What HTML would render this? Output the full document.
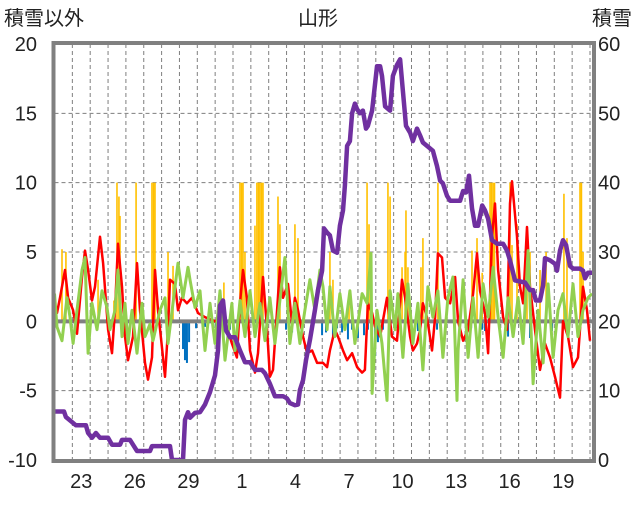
<!DOCTYPE html>
<html><head><meta charset="utf-8">
<style>
html,body{margin:0;padding:0;background:#fff;}
body{width:636px;height:501px;overflow:hidden;font-family:"Liberation Sans","Noto Sans CJK JP",sans-serif;}
</style></head>
<body>
<svg id="chart" width="636" height="501" viewBox="0 0 636 501" xmlns="http://www.w3.org/2000/svg" font-family="Liberation Sans, Noto Sans CJK JP, sans-serif">
<text x="318" y="25" font-size="20" text-anchor="middle" fill="#222">山形</text>
<text x="4" y="25" font-size="20" fill="#222">積雪以外</text>
<text x="632" y="25" font-size="20" text-anchor="end" fill="#222">積雪</text>
<g id="grid"></g>
<g id="bars"></g>
<g id="lines"></g>
<g id="axes"></g>
</svg>
<script>
const leftTicks=[-10,-5,0,5,10,15,20];
const rightTicks=[0,10,20,30,40,50,60];
const dayLabels=["23","26","29","1","4","7","10","13","16","19"];
const dayLabelPos=[1.5,4.5,7.5,10.5,13.5,16.5,19.5,22.5,25.5,28.5];
const redT=[0,.14,.31,.59,.76,1.04,1.26,1.54,1.71,1.88,2.1,2.27,2.55,2.72,3.0,3.22,3.39,3.56,3.78,3.95,4.12,4.4,4.62,4.79,5.07,5.24,5.46,5.63,5.8,6.02,6.19,6.36,6.47,6.75,6.92,7.14,7.42,7.7,8.04,8.43,9.0,9.38,9.66,9.94,10.22,10.39,10.56,10.78,10.95,11.23,11.4,11.68,11.9,12.07,12.24,12.46,12.63,12.8,13.08,13.31,13.47,13.64,13.92,14.15,14.43,14.71,15.04,15.27,15.43,15.71,15.88,16.16,16.39,16.67,16.95,17.23,17.39,17.56,17.79,17.96,18.24,18.63,18.91,19.19,19.47,19.64,19.92,20.08,20.31,20.48,20.64,20.87,21.15,21.32,21.48,21.71,21.88,22.16,22.44,22.61,22.89,23.17,23.45,23.67,23.84,24.12,24.29,24.51,24.68,24.85,25.13,25.35,25.52,25.63,25.91,26.08,26.25,26.47,26.64,26.92,27.2,27.48,27.76,28.04,28.32,28.49,28.77,29.05,29.33,29.61,29.83,30.0];
const redV=[1.3,0.6,1.7,3.7,1.7,0.8,-0.9,3.2,5.1,3.7,1.5,2.5,6.1,4.2,-0.6,-2.3,0.8,5.6,2.5,-1.1,-2.8,-1.1,4.2,0.8,-3,-4.2,-2.6,3.7,0.8,-1.9,-4,-0.6,3,2.7,0.8,1.7,1.3,1.7,0.6,0.3,0,0.3,-0.4,-1.6,-2.6,1.3,3.7,1.7,-2.1,-3.7,-2.3,3.2,-0.4,-4,-3.5,0.6,3.9,1.7,2.7,-0.2,1.7,0.8,-1.1,-2.3,-2.1,-3,-3,-3.3,-2.1,-0.6,-1.1,-2.1,-2.8,-2.3,-3.3,-3.7,-3.5,1.3,0.6,-0.4,-1.1,1.7,-1.1,-1.4,3,1.7,-1.1,-2.1,-1.6,-0.6,1.3,0.3,-2.1,0.3,4.9,4.6,1.7,1.3,3.2,0,-1.4,-0.6,2,4.9,2.2,0.6,-2.3,6.1,8.5,3.7,0.3,-0.6,8.5,10.1,6.1,2.5,1.3,6.8,2.5,-0.6,-3.5,-1.6,-2.6,-4,-5.5,0,-1.1,-3.3,-2.6,2.5,0.8,-1.4];
const greenT=[0,.14,.42,.70,.87,1.04,1.26,1.54,1.71,1.88,2.10,2.38,2.66,2.94,3.11,3.39,3.56,3.78,3.95,4.12,4.34,4.62,4.90,5.07,5.35,5.52,5.91,6.19,6.36,6.64,6.92,7.20,7.48,7.59,7.87,8.15,8.43,8.71,8.99,9.27,9.55,9.94,10.11,10.39,10.67,10.95,11.23,11.51,11.79,12.07,12.35,12.63,12.91,13.19,13.47,13.75,14.03,14.31,14.59,14.87,15.04,15.27,15.43,15.71,15.99,16.27,16.55,16.83,17.23,17.51,17.73,17.79,18.07,18.35,18.63,18.80,19.08,19.24,19.52,19.80,20.08,20.36,20.64,20.92,21.20,21.48,21.76,22.04,22.32,22.55,22.61,22.89,23.17,23.45,23.73,24.01,24.29,24.57,24.85,25.13,25.41,25.69,25.97,26.25,26.53,26.81,27.09,27.37,27.65,27.93,28.21,28.49,28.77,29.05,29.33,29.61,29.89,30.11];
const greenV=[2.0,-0.4,-1.4,1.7,0.3,-1.6,0.8,3.7,4.6,-2.3,1.3,-0.6,2.2,1.0,-0.6,0.8,3.7,-1.1,1.3,-1.6,0.8,-2.3,1.3,-1.1,-0.2,-1.4,0.8,1.7,-1.6,1.3,4.2,1.7,3.9,3.0,1.0,2.2,-2.1,1.3,-1.6,2.2,-2.8,1.3,-2.1,1.5,-1.1,2.2,-1.1,1.3,-1.4,1.7,-1.6,1.5,4.6,-1.6,1.3,-1.6,0.8,3.0,0.8,3.7,2.5,-0.6,2.5,-1.1,2.0,-0.6,2.2,-1.6,2.0,1.3,4.9,-5.2,0.8,-1.6,-5.7,2.2,-0.6,2.0,-2.6,2.7,-1.6,1.3,-3.5,2.5,0.3,2.2,-2.6,1.7,3.2,-5.7,-2.1,3.0,-2.6,1.7,-2.6,2.7,0.3,3.9,0.3,-2.6,1.7,-1.1,1.7,-1.6,5.1,-4.5,0.8,-3.0,2.7,-2.6,0.8,2.0,-1.1,2.7,-1.1,0.8,1.7,2.0];
const snowT=[0,.53,.64,1.20,1.76,1.88,2.10,2.32,2.55,3.00,3.22,3.67,3.78,4.23,4.40,4.62,5.35,5.46,6.47,6.58,7.20,7.31,7.48,7.59,7.87,8.15,8.43,8.71,8.99,9.16,9.27,9.44,9.61,9.83,10.11,10.39,10.67,10.95,11.23,11.62,11.79,12.07,12.35,12.80,13.02,13.19,13.47,13.64,13.75,13.92,14.09,14.31,14.59,14.76,14.99,15.10,15.27,15.43,15.60,15.83,15.99,16.16,16.27,16.39,16.55,16.67,16.83,16.95,17.11,17.28,17.45,17.56,17.79,18.07,18.24,18.35,18.52,18.80,18.96,19.19,19.36,19.52,19.69,19.92,20.08,20.31,20.48,20.64,20.87,21.20,21.43,21.60,21.76,21.99,22.16,22.72,22.89,23.06,23.22,23.39,23.56,23.73,23.96,24.12,24.29,24.51,24.79,25.13,25.35,25.52,25.80,26.36,26.64,26.81,26.97,27.20,27.37,27.48,27.76,28.04,28.15,28.32,28.49,28.66,28.88,29.05,29.44,29.61,29.72,29.89,30.17];
const snowV=[7,7,6.2,5,5,3.9,3.2,3.9,3.2,3.2,2.2,2.2,2.9,2.9,2.2,1.3,1.3,2,2,0,0,5.8,6.9,6.1,6.8,6.9,8,9.8,12.2,15.8,22.3,23,18.7,17.7,17.7,15.8,14.1,14.1,13,13,12.5,11,9.2,9.2,8.9,8.2,7.9,8,10.1,11.5,14.4,17.3,21.6,24.5,27.3,33.4,32.8,32.4,30.2,29.9,33.8,36,39.6,45.3,46,50,51.4,50.6,50,50.4,47.8,48.2,50.4,56.8,56.8,55.4,51,50.4,55.4,57,57.8,53.2,48.2,47.2,46,47.8,46.8,45.8,45.3,44.6,42.4,40.3,39.9,38.1,37.4,37.4,38.8,38.6,41,36.3,33.8,33.8,36.7,36,34.8,31.7,31.2,31.2,30.2,28.8,25.9,25.6,24.5,24.5,23,23,25.2,29.1,28.8,28.3,27.3,30.2,31.7,31,28,27.6,27.6,27.3,26.2,27,27];
const rainT=[.42,.64,2.44,3.33,3.50,3.61,3.67,4.57,5.46,5.55,5.63,6.36,6.64,9.49,10.39,10.48,10.56,10.67,11.23,11.34,11.43,11.51,11.6,11.68,12.52,12.63,13.47,13.64,15.43,15.6,16.5,17.51,17.62,18.68,18.8,19.47,19.64,19.69,19.8,20.53,20.64,21.48,23.39,23.67,23.96,24.40,24.48,24.57,24.65,25.52,25.63,25.91,26.47,26.64,27.2,27.54,28.54,28.71,29.44,29.52,29.61];
const rainV=[5.2,5,3,1.5,10,9,7.6,10,10,10,10,5,4,2.8,10,10,10,5,6.9,10,10,10,10,10,9,7,7,6,5,3,1.9,10,7,10,9,3.9,5,8,3.9,3.9,6,10,5.1,6,3.5,10,10,10,10,10,5.5,7,6.5,5,3.7,5,9.2,6,10,10,5];
const negT=[7.2,7.31,7.42,7.54,7.93,8.43,9.05,9.83,12.97,13.31,13.64,14.99,15.21,15.6,15.83,16.11,16.44,16.67,17.0,17.34,17.56,17.79,17.96,18.12,18.4,19.13,20.36,21.43,23.11,23.34,23.96,24.12,25.41,26.64,27.87];
const negV=[-2,-2.8,-3,-1.5,-0.5,-0.4,-0.8,-0.6,-0.6,-0.8,-0.7,-1,-0.8,-1.2,-0.5,-0.8,-1.3,-0.6,-1.2,-1,-0.6,-1.8,-2.5,-1.5,-0.6,-0.5,-0.7,-0.6,-0.7,-0.5,-0.6,-0.7,-1.1,-1.2,-0.7];

const NS='http://www.w3.org/2000/svg';
const PL=54.5,PR=593,PT=44,PB=460,DW=17.85,NDAYS=30.2;
const xs=t=>PL+t*DW;
const yl=v=>PB-(v+10)/30*(PB-PT);
const yr=v=>PB-v/60*(PB-PT);
function mk(tag,attrs,parent){const e=document.createElementNS(NS,tag);for(const k in attrs)e.setAttribute(k,attrs[k]);parent.appendChild(e);return e;}
const grid=document.getElementById('grid'),bars=document.getElementById('bars'),lines=document.getElementById('lines'),axes=document.getElementById('axes');

leftTicks.forEach((v,i)=>{
  if(v!==-10&&v!==20&&v!==0){const g=mk('line',{x1:PL,x2:PR,y1:yl(v),y2:yl(v),stroke:'#7f7f7f','stroke-width':1,'stroke-dasharray':'4,3'},grid);
  
  }
  const t=mk('text',{x:37,y:yl(v)+7,'font-size':20,'text-anchor':'end',fill:'#222'},axes);t.textContent=String(v);
  
  
});
rightTicks.forEach(v=>{
  const t=mk('text',{x:598,y:yr(v)+7,'font-size':20,fill:'#222'},axes);t.textContent=String(v);
  
  
});
for(let d=1;d<NDAYS;d++){
  const g=mk('line',{x1:xs(d),x2:xs(d),y1:PT,y2:PB,stroke:'#7f7f7f','stroke-width':1,'stroke-dasharray':'4,3'},grid);
  
  
}
dayLabels.forEach((s,i)=>{
  const t=mk('text',{x:xs(dayLabelPos[i]),y:488,'font-size':20,'text-anchor':'middle',fill:'#222'},axes);t.textContent=s;
  
  
});
rainT.forEach((t,i)=>{
  const r=mk('rect',{x:xs(t)-0.8,y:yl(rainV[i]),width:1.6,height:yl(0)-yl(rainV[i]),fill:'#FFC000'},bars);
  
  
});
negT.forEach((t,i)=>{
  const r=mk('rect',{x:xs(t)-1,y:yl(0),width:2,height:yl(negV[i])-yl(0),fill:'#0070C0'},bars);
  
  
});
const zl=mk('line',{x1:PL,x2:PR,y1:yl(0),y2:yl(0),stroke:'#808080','stroke-width':4},bars);


function path(T,V,fy,color,w,name){
  const d=T.map((t,i)=>(i?'L':'M')+xs(t).toFixed(1)+','+fy(V[i]).toFixed(1)).join('');
  const p=mk('path',{d:d,fill:'none',stroke:color,'stroke-width':w,'stroke-linejoin':'round'},lines);
  
  
}
path(redT,redV,yl,'#FF0000',2.5,'red-series-line');
path(greenT,greenV,yl,'#92D050',3,'green-series-line');
path(snowT,snowV,yr,'#7030A0',4.5,'snow-depth-line');
const b=mk('rect',{x:PL-1,y:PT-1,width:PR-PL+2,height:PB-PT+2,fill:'none',stroke:'#808080','stroke-width':4},axes);


</script>
</body></html>
